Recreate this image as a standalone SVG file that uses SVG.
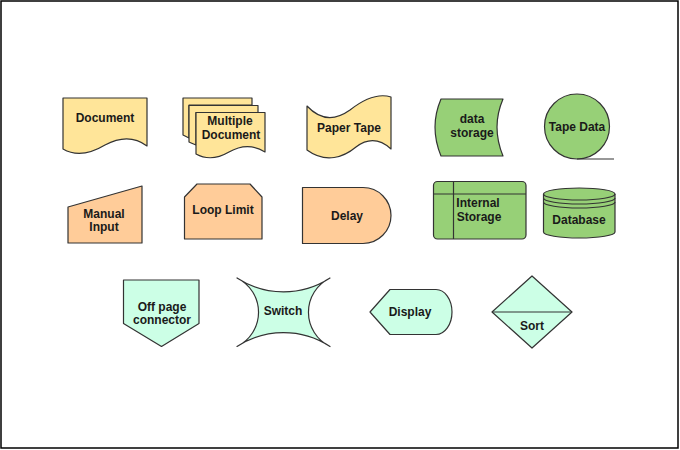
<svg xmlns="http://www.w3.org/2000/svg" width="680" height="450" viewBox="0 0 680 450">
<style>
text{font-family:"Liberation Sans",Arial,sans-serif;font-size:12px;font-weight:bold;fill:#1a1a1a;text-anchor:middle;dominant-baseline:central}
.s{stroke:#333;stroke-width:1.2;stroke-linejoin:round}
.y{fill:#FFE599}.o{fill:#FFCC99}.g{fill:#97D077}.m{fill:#CCFFE6}
.l{fill:none;stroke:#333;stroke-width:1.2}
</style>
<rect x="1" y="1" width="677" height="447" fill="#fff" stroke="#000" stroke-width="1.5"/>
<g id="document"><path class="s y" d="M63,98 H147 V146 C135,137 120,137 105,145 C90,154 75,156 63,149 Z"/><text x="105" y="118">Document</text></g>
<g id="multiple-document">
<path class="s y" d="M183,98 H252 V105 H189 V138 C187,137 185,136 183,135 Z"/>
<path class="s y" d="M189,105.5 H258 V112.5 H196 V145 C193.5,144 191,143 189,142 Z"/>
<path class="s y" d="M196,112.5 H265 V152 C254,145 241,145 229,152 C217,159 205,159 196,154 Z"/>
<text x="230" y="121">Multiple</text><text x="231" y="135">Document</text></g>
<g id="paper-tape"><path class="s y" d="M307,106 C321,121 336,120 350,110 C364,99 378,93 391,97 V149 C380,139 368,138 356,147 C344,157 326,164 307,150 Z"/><text x="349" y="128">Paper Tape</text></g>
<g id="data-storage"><path class="s g" d="M441,99 H503 Q491,127 503,156 H441 Q429,127 441,99 Z"/><text x="472" y="119">data</text><text x="472" y="133">storage</text></g>
<g id="tape-data"><circle class="s g" cx="577" cy="126.5" r="32.5"/><line class="l" x1="577" y1="159" x2="614" y2="159"/><text x="577" y="127">Tape Data</text></g>
<g id="manual-input"><path class="s o" d="M68,207 L142,186 V243 H68 Z"/><text x="104" y="214">Manual</text><text x="104" y="227">Input</text></g>
<g id="loop-limit"><path class="s o" d="M197,184 H250 L262,197 V239 H184.5 V197 Z"/><text x="223" y="210">Loop Limit</text></g>
<g id="delay"><path class="s o" d="M302.5,187.5 H363 A28,28 0 0 1 363,243.5 H302.5 Z"/><text x="347" y="215.5">Delay</text></g>
<g id="internal-storage"><rect class="s g" x="433.5" y="181.5" width="92.5" height="57.5" rx="4"/><line class="l" x1="453.5" y1="181.5" x2="453.5" y2="239"/><line class="l" x1="433.5" y1="194" x2="526" y2="194"/><text x="478" y="202.5">Internal</text><text x="479" y="217">Storage</text></g>
<g id="database"><path class="s g" d="M543.5,194 A35.75,6 0 0 1 615,194 V232 A35.75,6 0 0 1 543.5,232 Z"/><path class="l" d="M543.5,194 A35.75,6 0 0 0 615,194 M543.5,198 A35.75,6 0 0 0 615,198 M543.5,202 A35.75,6 0 0 0 615,202"/><text x="579" y="220">Database</text></g>
<g id="off-page-connector"><path class="s m" d="M123.5,280 H199 V323.5 L161.5,346.5 L123.5,323.5 Z"/><text x="162" y="307">Off page</text><text x="162" y="320">connector</text></g>
<g id="switch"><path class="s m" d="M237,278 A85,85 0 0 0 330,278 A38,38 0 0 0 330,346.5 A85,85 0 0 0 237,346.5 A38,38 0 0 0 237,278 Z"/><text x="283" y="311">Switch</text></g>
<g id="display"><path class="s m" d="M370,312 L390,289.5 H436 A16,22.5 0 0 1 436,334.5 H390 Z"/><text x="410" y="312">Display</text></g>
<g id="sort"><path class="s m" d="M532,276 L572,312 L532,348 L492,312 Z"/><line class="l" x1="492" y1="312" x2="572" y2="312"/><text x="532" y="326">Sort</text></g>
</svg>
